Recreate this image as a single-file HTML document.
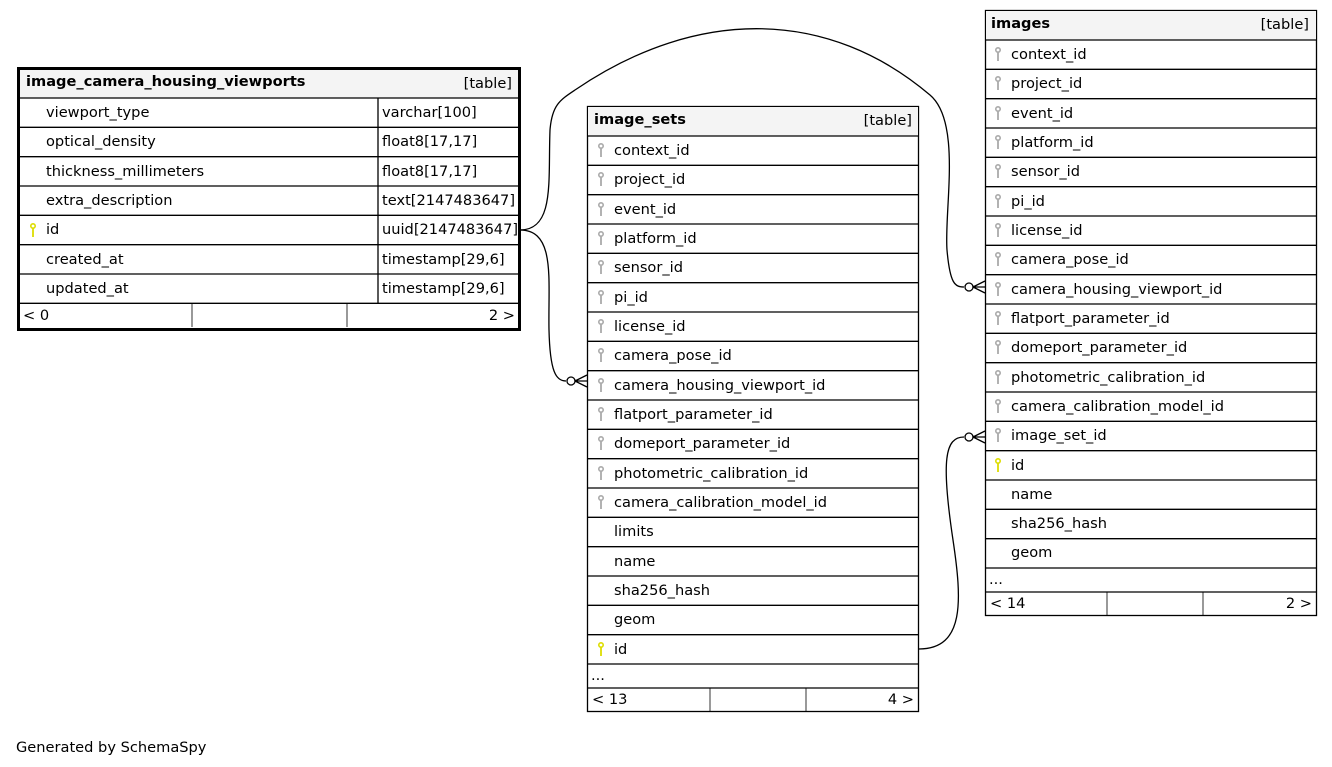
<!DOCTYPE html>
<html><head><meta charset="utf-8"><style>
body{margin:0;background:#fff;}
svg{display:block;font-family:"DejaVu Sans","Liberation Sans",sans-serif;font-size:14.6px;}
.b{font-weight:bold;}
</style></head><body>
<svg width="1332" height="767" viewBox="0 0 1332 767" xmlns="http://www.w3.org/2000/svg">
<defs>
<g id="kg"><circle cx="0" cy="-4" r="2.2" fill="none" stroke="#aaa" stroke-width="1.6"/><line x1="0" y1="-2" x2="0" y2="7" stroke="#aaa" stroke-width="1.8"/></g>
<g id="ky"><circle cx="0" cy="-4" r="2.2" fill="none" stroke="#dddd00" stroke-width="1.6"/><line x1="0" y1="-2" x2="0" y2="7" stroke="#dddd00" stroke-width="1.8"/></g>
</defs>
<g fill="none" stroke="#000" stroke-width="1.3">
<path d="M520,230 C556,230 548,280 549,330 C550,372 556,381 566,381"/>
<circle cx="571" cy="381" r="4" fill="#fff"/>
<path d="M575,381 L587,375 M575,381 L587,381 M575,381 L587,387"/>
<path d="M520,230 C555,230 548,180 550,130 C552,105 560,100 575,90 C700,5 830,10 930,95 C962,122 944,210 947,250 C950,284 955,287 964,287"/>
<circle cx="969" cy="287" r="4" fill="#fff"/>
<path d="M973,287 L985,281 M973,287 L985,287 M973,287 L985,293"/>
<path d="M919,649 C965,649 962,600 953,540 C941,460 945,437 964,437"/>
<circle cx="969" cy="437" r="4" fill="#fff"/>
<path d="M973,437 L985,431 M973,437 L985,437 M973,437 L985,443"/>
</g>

<rect x="18.5" y="68.5" width="501" height="261" fill="#fff" stroke="#000" stroke-width="3"/>
<rect x="20" y="70" width="498" height="28" fill="#f4f4f4"/>
<g stroke="#000" stroke-width="1.3">
<line x1="18" y1="98" x2="520" y2="98"/><line x1="18" y1="127.3" x2="520" y2="127.3"/><line x1="18" y1="156.7" x2="520" y2="156.7"/><line x1="18" y1="186" x2="520" y2="186"/><line x1="18" y1="215.3" x2="520" y2="215.3"/><line x1="18" y1="244.7" x2="520" y2="244.7"/><line x1="18" y1="274" x2="520" y2="274"/><line x1="18" y1="303.3" x2="520" y2="303.3"/>
<line x1="378" y1="98" x2="378" y2="303"/>
<line x1="192" y1="303" x2="192" y2="327" stroke-width="0.8"/><line x1="347" y1="303" x2="347" y2="327" stroke-width="0.8"/>
</g>
<text x="26" y="86" class="b">image_camera_housing_viewports</text><text x="512" y="88" text-anchor="end">[table]</text>
<text x="46" y="117">viewport_type</text><text x="382" y="117">varchar[100]</text>
<text x="46" y="146">optical_density</text><text x="382" y="146">float8[17,17]</text>
<text x="46" y="176">thickness_millimeters</text><text x="382" y="176">float8[17,17]</text>
<text x="46" y="205">extra_description</text><text x="382" y="205">text[2147483647]</text>
<use href="#ky" x="33" y="230"/><text x="46" y="234">id</text><text x="382" y="234">uuid[2147483647]</text>
<text x="46" y="264">created_at</text><text x="382" y="264">timestamp[29,6]</text>
<text x="46" y="293">updated_at</text><text x="382" y="293">timestamp[29,6]</text>
<text x="23" y="320">&lt; 0</text><text x="515" y="320" text-anchor="end">2 &gt;</text>

<rect x="587.5" y="106.5" width="331" height="605" fill="#fff" stroke="#000" stroke-width="1.3"/>
<rect x="588" y="107" width="330" height="29" fill="#f4f4f4"/>
<g stroke="#000" stroke-width="1.3">
<line x1="587" y1="136" x2="919" y2="136"/><line x1="587" y1="165.3" x2="919" y2="165.3"/><line x1="587" y1="194.7" x2="919" y2="194.7"/><line x1="587" y1="224" x2="919" y2="224"/><line x1="587" y1="253.3" x2="919" y2="253.3"/><line x1="587" y1="282.7" x2="919" y2="282.7"/><line x1="587" y1="312" x2="919" y2="312"/><line x1="587" y1="341.3" x2="919" y2="341.3"/><line x1="587" y1="370.7" x2="919" y2="370.7"/><line x1="587" y1="400" x2="919" y2="400"/><line x1="587" y1="429.3" x2="919" y2="429.3"/><line x1="587" y1="458.7" x2="919" y2="458.7"/><line x1="587" y1="488" x2="919" y2="488"/><line x1="587" y1="517.3" x2="919" y2="517.3"/><line x1="587" y1="546.7" x2="919" y2="546.7"/><line x1="587" y1="576" x2="919" y2="576"/><line x1="587" y1="605.3" x2="919" y2="605.3"/><line x1="587" y1="634.7" x2="919" y2="634.7"/><line x1="587" y1="664" x2="919" y2="664"/><line x1="587" y1="688" x2="919" y2="688"/>
<line x1="710" y1="688" x2="710" y2="712" stroke-width="0.8"/><line x1="806" y1="688" x2="806" y2="712" stroke-width="0.8"/>
</g>
<text x="594" y="124" class="b">image_sets</text><text x="912" y="125" text-anchor="end">[table]</text>
<use href="#kg" x="601" y="150"/><text x="614" y="155">context_id</text>
<use href="#kg" x="601" y="179"/><text x="614" y="184">project_id</text>
<use href="#kg" x="601" y="209"/><text x="614" y="214">event_id</text>
<use href="#kg" x="601" y="238"/><text x="614" y="243">platform_id</text>
<use href="#kg" x="601" y="267"/><text x="614" y="272">sensor_id</text>
<use href="#kg" x="601" y="297"/><text x="614" y="302">pi_id</text>
<use href="#kg" x="601" y="326"/><text x="614" y="331">license_id</text>
<use href="#kg" x="601" y="355"/><text x="614" y="360">camera_pose_id</text>
<use href="#kg" x="601" y="385"/><text x="614" y="390">camera_housing_viewport_id</text>
<use href="#kg" x="601" y="414"/><text x="614" y="419">flatport_parameter_id</text>
<use href="#kg" x="601" y="443"/><text x="614" y="448">domeport_parameter_id</text>
<use href="#kg" x="601" y="473"/><text x="614" y="478">photometric_calibration_id</text>
<use href="#kg" x="601" y="502"/><text x="614" y="507">camera_calibration_model_id</text>
<text x="614" y="536">limits</text>
<text x="614" y="566">name</text>
<text x="614" y="595">sha256_hash</text>
<text x="614" y="624">geom</text>
<use href="#ky" x="601" y="649"/><text x="614" y="654">id</text>
<text x="591" y="680">...</text>
<text x="592" y="704">&lt; 13</text><text x="914" y="704" text-anchor="end">4 &gt;</text>

<rect x="985.5" y="10.5" width="331" height="605" fill="#fff" stroke="#000" stroke-width="1.3"/>
<rect x="986" y="11" width="330" height="29" fill="#f4f4f4"/>
<g stroke="#000" stroke-width="1.3">
<line x1="985" y1="40" x2="1317" y2="40"/><line x1="985" y1="69.3" x2="1317" y2="69.3"/><line x1="985" y1="98.7" x2="1317" y2="98.7"/><line x1="985" y1="128" x2="1317" y2="128"/><line x1="985" y1="157.3" x2="1317" y2="157.3"/><line x1="985" y1="186.7" x2="1317" y2="186.7"/><line x1="985" y1="216" x2="1317" y2="216"/><line x1="985" y1="245.3" x2="1317" y2="245.3"/><line x1="985" y1="274.7" x2="1317" y2="274.7"/><line x1="985" y1="304" x2="1317" y2="304"/><line x1="985" y1="333.3" x2="1317" y2="333.3"/><line x1="985" y1="362.7" x2="1317" y2="362.7"/><line x1="985" y1="392" x2="1317" y2="392"/><line x1="985" y1="421.3" x2="1317" y2="421.3"/><line x1="985" y1="450.7" x2="1317" y2="450.7"/><line x1="985" y1="480" x2="1317" y2="480"/><line x1="985" y1="509.3" x2="1317" y2="509.3"/><line x1="985" y1="538.7" x2="1317" y2="538.7"/><line x1="985" y1="568" x2="1317" y2="568"/><line x1="985" y1="592" x2="1317" y2="592"/>
<line x1="1107" y1="592" x2="1107" y2="616" stroke-width="0.8"/><line x1="1203" y1="592" x2="1203" y2="616" stroke-width="0.8"/>
</g>
<text x="991" y="28" class="b">images</text><text x="1309" y="29" text-anchor="end">[table]</text>
<use href="#kg" x="998" y="54"/><text x="1011" y="59">context_id</text>
<use href="#kg" x="998" y="83"/><text x="1011" y="88">project_id</text>
<use href="#kg" x="998" y="113"/><text x="1011" y="118">event_id</text>
<use href="#kg" x="998" y="142"/><text x="1011" y="147">platform_id</text>
<use href="#kg" x="998" y="171"/><text x="1011" y="176">sensor_id</text>
<use href="#kg" x="998" y="201"/><text x="1011" y="206">pi_id</text>
<use href="#kg" x="998" y="230"/><text x="1011" y="235">license_id</text>
<use href="#kg" x="998" y="259"/><text x="1011" y="264">camera_pose_id</text>
<use href="#kg" x="998" y="289"/><text x="1011" y="294">camera_housing_viewport_id</text>
<use href="#kg" x="998" y="318"/><text x="1011" y="323">flatport_parameter_id</text>
<use href="#kg" x="998" y="347"/><text x="1011" y="352">domeport_parameter_id</text>
<use href="#kg" x="998" y="377"/><text x="1011" y="382">photometric_calibration_id</text>
<use href="#kg" x="998" y="406"/><text x="1011" y="411">camera_calibration_model_id</text>
<use href="#kg" x="998" y="435"/><text x="1011" y="440">image_set_id</text>
<use href="#ky" x="998" y="465"/><text x="1011" y="470">id</text>
<text x="1011" y="499">name</text>
<text x="1011" y="528">sha256_hash</text>
<text x="1011" y="557">geom</text>
<text x="989" y="584">...</text>
<text x="990" y="608">&lt; 14</text><text x="1312" y="608" text-anchor="end">2 &gt;</text>

<text x="16" y="752">Generated by SchemaSpy</text>
</svg>
</body></html>
